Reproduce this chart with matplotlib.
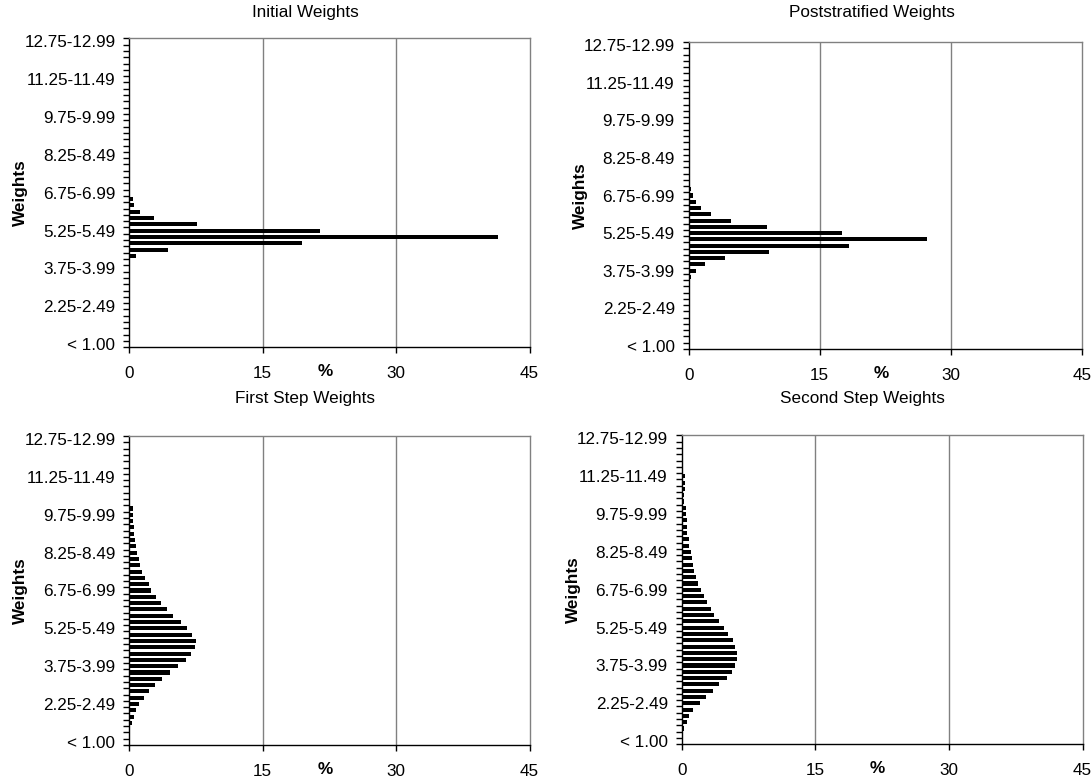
import numpy as np
import matplotlib
matplotlib.use("Agg")
import matplotlib.pyplot as plt

plt.rcParams['font.family'] = ['Liberation Sans', 'DejaVu Sans']

# weight classes: "< 1.00", 1.00-1.24, ..., 12.75-12.99  (49 classes)
n_cls = 49
tick_idx = [0, 6, 12, 18, 24, 30, 36, 42, 48]
tick_labels = ["< 1.00", "2.25-2.49", "3.75-3.99", "5.25-5.49", "6.75-6.99",
               "8.25-8.49", "9.75-9.99", "11.25-11.49", "12.75-12.99"]

# percent in each class (index -> value)
initial = {14: 0.8, 15: 4.4, 16: 19.45, 17: 41.5, 18: 21.4, 19: 7.6,
           20: 2.75, 21: 1.2, 22: 0.5, 23: 0.4}
poststrat = {11: 0.3, 12: 0.88, 13: 1.83, 14: 4.2, 15: 9.25, 16: 18.4,
             17: 27.3, 18: 17.55, 19: 9.0, 20: 4.8, 21: 2.55, 22: 1.45,
             23: 0.88, 24: 0.46, 25: 0.3}
first_step = {3: 0.34, 4: 0.49, 5: 0.78, 6: 1.04, 7: 1.6, 8: 2.16, 9: 2.87,
              10: 3.66, 11: 4.55, 12: 5.52, 13: 6.34, 14: 6.9, 15: 7.35,
              16: 7.46, 17: 7.05, 18: 6.49, 19: 5.78, 20: 4.93, 21: 4.25,
              22: 3.54, 23: 3.02, 24: 2.43, 25: 2.16, 26: 1.75, 27: 1.46,
              28: 1.19, 29: 1.04, 30: 0.9, 31: 0.78, 32: 0.63, 33: 0.49,
              34: 0.49, 35: 0.37, 36: 0.37, 37: 0.37}
second_step = {2: 0.3, 3: 0.6, 4: 0.83, 5: 1.28, 6: 2.0, 7: 2.69, 8: 3.52,
               9: 4.23, 10: 5.05, 11: 5.65, 12: 5.98, 13: 6.17, 14: 6.17,
               15: 6.02, 16: 5.76, 17: 5.24, 18: 4.79, 19: 4.23, 20: 3.67,
               21: 3.29, 22: 2.84, 23: 2.54, 24: 2.13, 25: 1.87, 26: 1.57,
               27: 1.42, 28: 1.31, 29: 1.12, 30: 1.01, 31: 0.86, 32: 0.79,
               33: 0.64, 34: 0.64, 35: 0.64, 36: 0.45, 37: 0.45, 38: 0.3,
               39: 0.3, 40: 0.34, 41: 0.34, 42: 0.34}

titles = ["Initial Weights", "Poststratified Weights",
          "First Step Weights", "Second Step Weights"]
series = [initial, poststrat, first_step, second_step]
x_ticks = [0, 15, 30, 45]

W, H = 1092, 777
fig = plt.figure(figsize=(W / 100, H / 100), dpi=100)

# panel boxes in pixels: x0, x1, ytop, ybottom, title centre x, title y
boxes = [(129.3, 529.5, 38.3, 347.3, 305, 13),
         (688.7, 1081.7, 42, 349, 872, 13),
         (129.3, 529.5, 436, 745, 305, 398),
         (681.7, 1082.5, 435.3, 744.3, 862, 398)]

fs = 12.3
grey = "#808080"
for (x0, x1, yt, yb, tx, ty), title, d in zip(boxes, titles, series):
    ax = fig.add_axes([x0 / W, 1 - yb / H, (x1 - x0) / W, (yb - yt) / H])
    vals = np.zeros(n_cls)
    for k, v in d.items():
        vals[k] = v
    ax.barh(np.arange(n_cls), vals, height=0.65, color="black", zorder=3)
    ax.set_xlim(0, 45)
    ax.set_ylim(-0.5, n_cls - 0.5)
    for g in [15, 30]:
        ax.axvline(g, color=grey, lw=1, zorder=1)
    ax.set_xticks(x_ticks)
    ax.set_xticklabels([str(t) for t in x_ticks], fontsize=fs)
    ax.tick_params(axis="x", length=4, width=1, pad=9.5, color="black")
    ax.set_yticks(tick_idx)
    ax.set_yticklabels(tick_labels, fontsize=fs)
    ax.set_yticks(np.arange(-0.5, n_cls, 1), minor=True)
    ax.tick_params(axis="y", which="major", length=0, pad=10)
    ax.tick_params(axis="y", which="minor", length=4, width=1, color="black")
    ax.spines["left"].set_color("black")
    ax.spines["bottom"].set_color("black")
    ax.spines["top"].set_color(grey)
    ax.spines["right"].set_color(grey)
    for s in ax.spines.values():
        s.set_linewidth(1)
    ax.set_ylabel("Weights", fontsize=fs, fontweight="bold")
    ax.yaxis.set_label_coords(-101 / (x1 - x0), 0.5)
    ax.text(22, -24.5 / (yb - yt), "%", transform=ax.get_xaxis_transform(),
            fontsize=fs, fontweight="bold", ha="center", va="center")
    fig.text(tx / W, 1 - ty / H, title, fontsize=fs, ha="center", va="center")

fig.savefig("out.png", dpi=100)
